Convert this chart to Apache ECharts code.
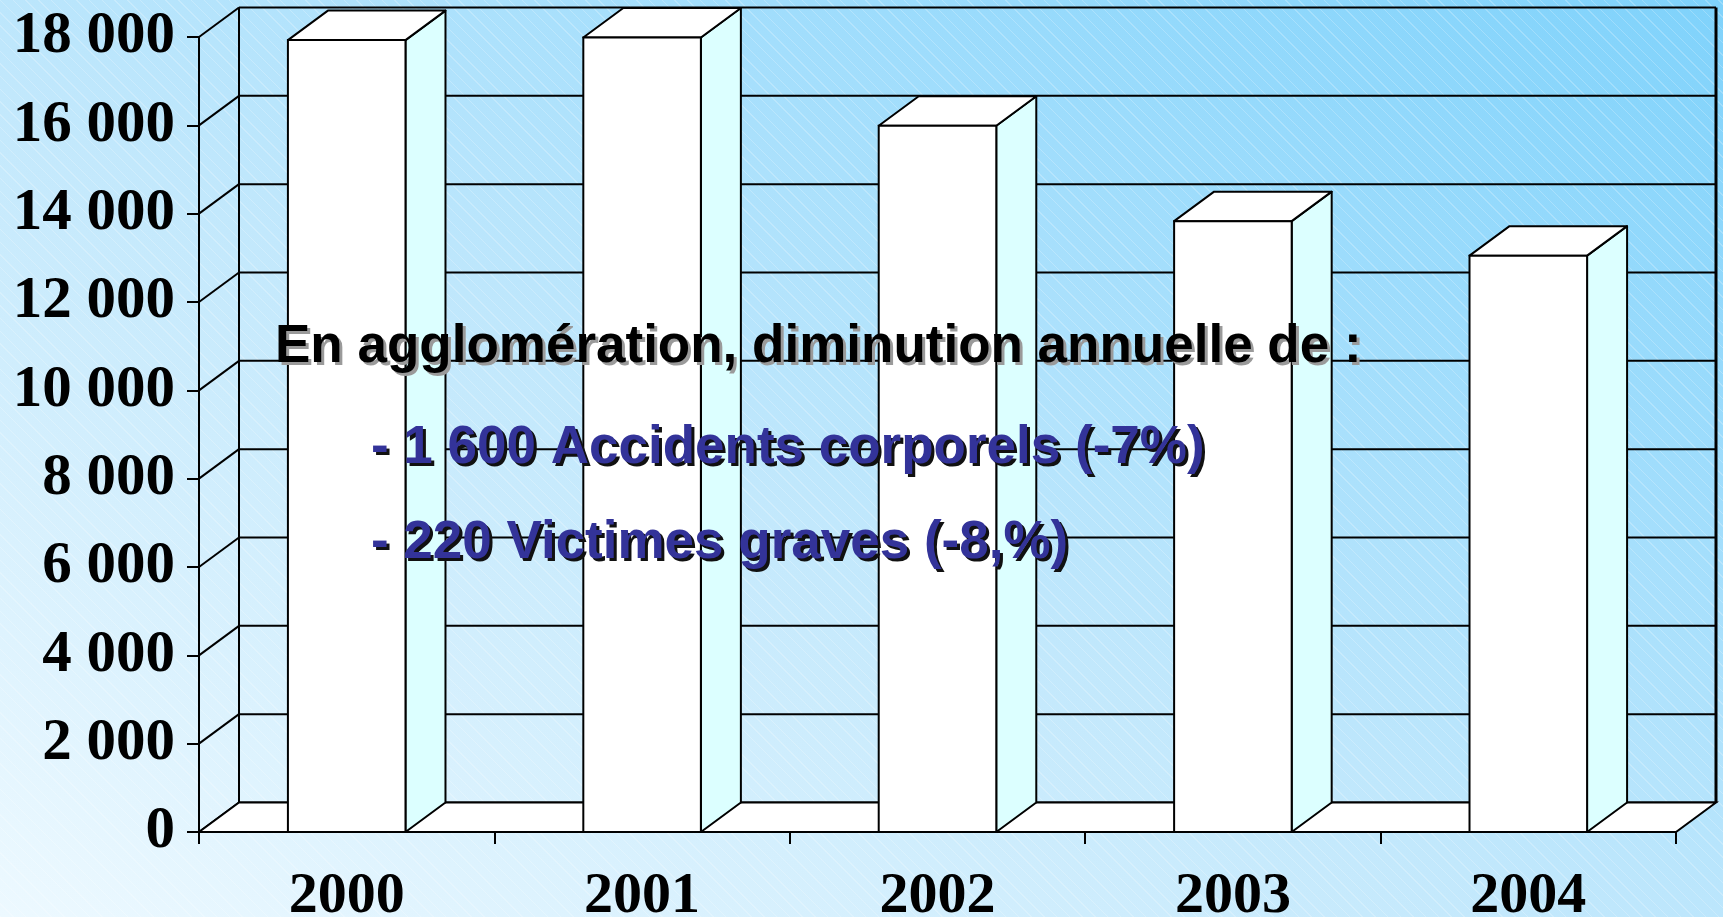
<!DOCTYPE html>
<html>
<head>
<meta charset="utf-8">
<script src="https://cdn.jsdelivr.net/npm/echarts@6/dist/echarts.min.js"></script>
<style>
  html, body { margin: 0; padding: 0; }
  body {
    width: 1723px; height: 917px; overflow: hidden;
    background:
      repeating-linear-gradient(45deg, rgba(255,255,255,0.22) 0px, rgba(255,255,255,0.22) 1px, rgba(255,255,255,0) 1px, rgba(255,255,255,0) 9px),
      linear-gradient(to top right, #edf9ff 0%, #c2e8fc 45%, #9ddcfc 75%, #7fd2fb 100%);
  }
  #chart { width: 1723px; height: 917px; }
</style>
</head>
<body>
<div id="chart"></div>
<script>
// ---- data ----
const YEARS = ['2000', '2001', '2002', '2003', '2004'];
const ACCIDENTS = [17930, 17990, 15990, 13830, 13050];
const Y_TICKS = [0, 2000, 4000, 6000, 8000, 10000, 12000, 14000, 16000, 18000];
const NOTE_TITLE = 'En agglomération, diminution annuelle de :';
const NOTE_LINE1 = '- 1 600 Accidents corporels (-7%)';
const NOTE_LINE2 = '- 220 Victimes graves (-8,%)';

// ---- style constants ----
const DX = 40, DY = -29.5;          // 3D depth offset (px)
const BAR_RATIO = 0.398;            // bar width / category width
const SIDE = '#dcffff';
const LW = 2;

function fmt(v) { return String(v).replace(/\B(?=(\d{3})+(?!\d))/g, ' '); }

const chart = echarts.init(document.getElementById('chart'), null, { renderer: 'canvas' });

function wallItem(params, api) {
  const cs = params.coordSys;
  const x0 = cs.x, x1 = cs.x + cs.width;
  const y = api.coord([0, api.value(1)])[1];
  return {
    type: 'group',
    children: [
      { type: 'line', shape: { x1: x0 + DX, y1: y + DY, x2: x1 + DX, y2: y + DY }, style: { stroke: '#000', lineWidth: LW } },
      { type: 'line', shape: { x1: x0, y1: y, x2: x0 + DX, y2: y + DY }, style: { stroke: '#000', lineWidth: LW } }
    ]
  };
}

function frameItem(params, api) {
  const cs = params.coordSys;
  const x0 = cs.x, x1 = cs.x + cs.width;
  const yb = api.coord([0, Y_TICKS[0]])[1];
  const yt = api.coord([0, Y_TICKS[Y_TICKS.length - 1]])[1];
  return {
    type: 'group',
    children: [
      { type: 'line', shape: { x1: x0 + DX, y1: yb + DY, x2: x0 + DX, y2: yt + DY }, style: { stroke: '#000', lineWidth: LW } },
      { type: 'line', shape: { x1: x1 + DX, y1: yb + DY, x2: x1 + DX, y2: yt + DY }, style: { stroke: '#000', lineWidth: LW + 1 } },
      { type: 'polygon', shape: { points: [[x0, yb], [x1, yb], [x1 + DX, yb + DY], [x0 + DX, yb + DY]] },
        style: { fill: '#ffffff', stroke: '#000', lineWidth: LW } }
    ]
  };
}

function barItem(params, api) {
  const top = api.coord([api.value(0), api.value(1)]);
  const base = api.coord([api.value(0), 0]);
  const w = api.size([1, 0])[0] * BAR_RATIO;
  const xl = top[0] - w / 2, xr = top[0] + w / 2, yt = top[1], yb = base[1];
  return {
    type: 'group',
    children: [
      { type: 'polygon', shape: { points: [[xr, yb], [xr + DX, yb + DY], [xr + DX, yt + DY], [xr, yt]] },
        style: { fill: SIDE, stroke: '#000', lineWidth: LW, lineJoin: 'round' } },
      { type: 'polygon', shape: { points: [[xl, yt], [xr, yt], [xr + DX, yt + DY], [xl + DX, yt + DY]] },
        style: { fill: '#ffffff', stroke: '#000', lineWidth: LW, lineJoin: 'round' } },
      { type: 'rect', shape: { x: xl, y: yt, width: w, height: yb - yt },
        style: { fill: '#ffffff', stroke: '#000', lineWidth: LW } }
    ]
  };
}

function noteText(x, y, text, fill, shadow) {
  return {
    type: 'text', x: x, y: y, z: 100,
    style: {
      text: text, font: 'bold 53px "Liberation Sans", Arial, sans-serif', fill: fill,
      align: 'left', verticalAlign: 'middle',
      shadowColor: shadow, shadowOffsetX: 3, shadowOffsetY: 3, shadowBlur: 0.01,
      textShadowColor: shadow, textShadowOffsetX: 3, textShadowOffsetY: 3, textShadowBlur: 0.01
    }
  };
}

const option = {
  backgroundColor: 'transparent',
  animation: false,
  grid: { left: 199, right: 47, top: 37, bottom: 85, containLabel: false, outerBoundsMode: 'none' },
  xAxis: {
    type: 'category',
    data: YEARS,
    boundaryGap: true,
    axisLine: { show: true, lineStyle: { color: '#000', width: LW } },
    axisTick: { show: true, length: 12, alignWithLabel: false, lineStyle: { color: '#000', width: LW } },
    axisLabel: { margin: 36, color: '#000', fontFamily: '"Liberation Serif", "Times New Roman", serif', fontWeight: 'bold', fontSize: 58 },
    splitLine: { show: false }
  },
  yAxis: {
    type: 'value',
    min: 0, max: 18000, interval: 2000,
    axisLine: { show: true, lineStyle: { color: '#000', width: LW } },
    axisTick: { show: true, length: 12, lineStyle: { color: '#000', width: LW } },
    axisLabel: { margin: 24, padding: [12, 0, 0, 0], color: '#000', fontFamily: '"Liberation Serif", "Times New Roman", serif', fontWeight: 'bold', fontSize: 59, formatter: fmt },
    splitLine: { show: false }
  },
  series: [
    { type: 'custom', name: 'walls', z: 1, clip: false, silent: true,
      data: Y_TICKS.map(v => [0, v]), encode: { x: 0, y: 1 }, renderItem: wallItem },
    { type: 'custom', name: 'frame', z: 2, clip: false, silent: true,
      data: [[0, 0]], encode: { x: 0, y: 1 }, renderItem: frameItem },
    { type: 'custom', name: 'Accidents', z: 3, clip: false,
      data: YEARS.map((y, i) => [i, ACCIDENTS[i]]), encode: { x: 0, y: 1 }, renderItem: barItem }
  ],
  graphic: [
    noteText(275, 347, NOTE_TITLE, '#000000', '#9a9a9a'),
    noteText(371, 448, NOTE_LINE1, '#333399', '#111111'),
    noteText(371, 543, NOTE_LINE2, '#333399', '#111111')
  ]
};
chart.setOption(option);
</script>
</body>
</html>
